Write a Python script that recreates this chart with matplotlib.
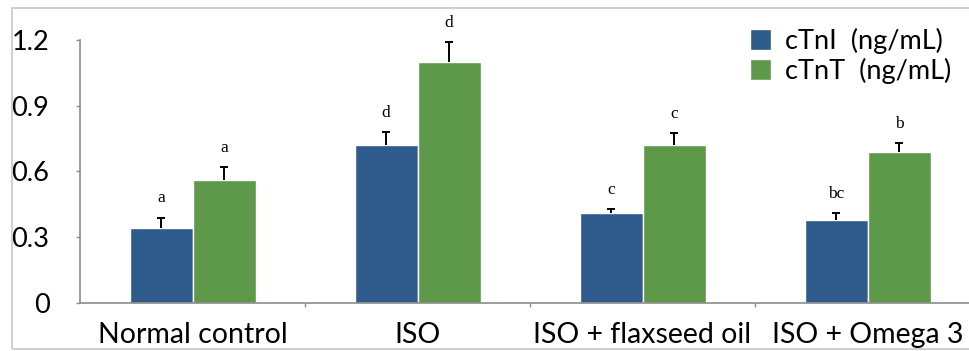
import matplotlib.pyplot as plt
import numpy as np
from matplotlib.patches import Rectangle

plt.rcParams['font.family'] = ['Lato', 'DejaVu Sans']

groups = ['Normal control', 'ISO', 'ISO + flaxseed oil', 'ISO + Omega 3']
ctni = [0.34, 0.72, 0.41, 0.38]
ctni_err = [0.05, 0.06, 0.02, 0.03]
ctnt = [0.56, 1.10, 0.72, 0.69]
ctnt_err = [0.06, 0.09, 0.055, 0.04]
ctni_sig = ['a', 'd', 'c', 'bc']
ctnt_sig = ['a', 'd', 'c', 'b']
yticks = [0, 0.3, 0.6, 0.9, 1.2]
ytick_labels = ['0', '0.3', '0.6', '0.9', '1.2']

blue = '#2f5a8c'
green = '#5e994a'
axis_gray = '#8c8c8c'

fig = plt.figure(figsize=(9.69, 3.51), dpi=100)
ax = fig.add_axes([80 / 969, 48 / 351, 900 / 969, 263 / 351])

x = np.arange(len(groups))
w = 0.28
b1 = ax.bar(x - w / 2, ctni, w, color=blue, edgecolor='white', linewidth=1,
            label='cTnI  (ng/mL)')
b2 = ax.bar(x + w / 2, ctnt, w, color=green, edgecolor='white', linewidth=1,
            label='cTnT  (ng/mL)')

# upper error bars only: hide the cap at the bar top
for xs, vals, errs in [(x - w / 2, ctni, ctni_err), (x + w / 2, ctnt, ctnt_err)]:
    _, caps, _ = ax.errorbar(xs, vals, yerr=[np.zeros(len(errs)), errs],
                             fmt='none', ecolor='black', elinewidth=1.4,
                             capsize=3, capthick=1.4)
    caps[0].set_visible(False)

for xs, vals, errs, sig in [(x - w / 2, ctni, ctni_err, ctni_sig),
                            (x + w / 2, ctnt, ctnt_err, ctnt_sig)]:
    for xi, v, e, s in zip(xs, vals, errs, sig):
        ax.annotate(s, (xi, v + e), xytext=(0, 8), textcoords='offset points',
                    ha='center', va='bottom', fontsize=12.5,
                    family='Liberation Serif')

ax.set_xlim(-0.5, 3.5)
ax.set_ylim(0, 1.2)
ax.set_yticks(yticks)
ax.set_yticklabels(ytick_labels)
ax.tick_params(axis='y', length=3, width=1, color=axis_gray, pad=19,
               labelsize=19.5)

# category boundaries get tick marks, names sit between them
ax.set_xticks([0.5, 1.5, 2.5])
ax.set_xticklabels([])
ax.tick_params(axis='x', length=3, width=1, color=axis_gray)
for xi, g in zip(x, groups):
    ax.text(xi, -0.085, g, ha='center', va='top', fontsize=20.5)

for side in ['top', 'right']:
    ax.spines[side].set_visible(False)
for side in ['left', 'bottom']:
    ax.spines[side].set_color(axis_gray)
    ax.spines[side].set_linewidth(1.2)

fig.legend(handles=[b1, b2], loc='upper left',
           bbox_to_anchor=(736 / 969, 1 - 14 / 351), frameon=False,
           fontsize=19.5, handlelength=0.8, handleheight=0.8,
           handletextpad=0.5, labelspacing=0.15, borderpad=0)

# light border round the figure
fig.patches.append(Rectangle((12 / 969, 2 / 351), 1.2, 341 / 351,
                             transform=fig.transFigure, fill=False,
                             edgecolor='#c8c8c8', linewidth=1.2))

fig.savefig('out.png', dpi=100)
